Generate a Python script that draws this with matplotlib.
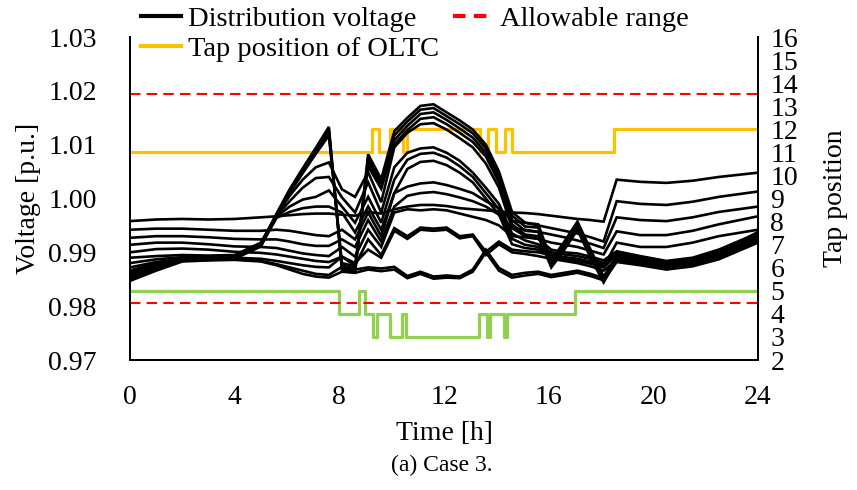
import numpy as np
import matplotlib
matplotlib.use("Agg")
import matplotlib.pyplot as plt

plt.rcParams["font.family"] = ["Liberation Serif", "DejaVu Serif"]
plt.rcParams["font.size"] = 20

# --- Time grid of the voltage curves [h] ---
hours = [0, 1, 2, 3, 4, 5, 5.6, 6.1, 6.6, 7.1, 7.6, 8.1, 8.6, 9.1, 9.6, 10.1, 10.6, 11.1, 11.6,
         12.1, 12.6, 13.1, 13.6, 14.1, 14.6, 15.1, 15.6, 16.1, 16.6, 17.1, 17.6, 18.1, 18.6,
         19.5, 20.5, 21.5, 22.5, 24]

# --- Distribution voltages [p.u.] ---
v_f = [0.9958, 0.9961, 0.9962, 0.9961, 0.9962, 0.9965, 0.9967, 0.9969, 0.9971, 0.9972, 0.9972, 0.9970, 0.9968,
       0.9975, 0.9972, 0.9980, 0.9985, 0.9988, 0.9988, 0.9986, 0.9982, 0.9980, 0.9978, 0.9976, 0.9974, 0.9973,
       0.9971, 0.9968, 0.9965, 0.9962, 0.9960, 0.9957, 1.0035, 1.0031, 1.0029, 1.0033, 1.0040, 1.0048]
v_u1 = [0.9942, 0.9944, 0.9944, 0.9942, 0.9940, 0.9940, 0.9942, 0.9940, 0.9936, 0.9932, 0.9930, 0.9942, 0.9924,
        0.9974, 0.9930, 1.0010, 1.0022, 1.0028, 1.0030, 1.0025, 1.0018, 1.0010, 0.9995, 0.9982, 0.9958, 0.9955,
        0.9950, 0.9945, 0.9940, 0.9935, 0.9928, 0.9920, 0.9995, 0.9990, 0.9988, 0.9994, 1.0003, 1.0013]
v_u2 = [0.9927, 0.9930, 0.9930, 0.9928, 0.9925, 0.9924, 0.9924, 0.9920, 0.9915, 0.9912, 0.9912, 0.9924, 0.9910,
        0.9960, 0.9920, 0.9985, 1.0005, 1.0010, 1.0012, 1.0008, 1.0002, 0.9995, 0.9985, 0.9970, 0.9945, 0.9942,
        0.9938, 0.9933, 0.9928, 0.9922, 0.9916, 0.9908, 0.9965, 0.9960, 0.9958, 0.9965, 0.9975, 0.9985]
v_u3 = [0.9914, 0.9918, 0.9918, 0.9915, 0.9911, 0.9910, 0.9908, 0.9903, 0.9898, 0.9895, 0.9893, 0.9910, 0.9892,
        0.9942, 0.9910, 0.9974, 0.9980, 0.9978, 0.9980, 0.9978, 0.9972, 0.9966, 0.9960, 0.9950, 0.9930, 0.9928,
        0.9925, 0.9918, 0.9914, 0.9910, 0.9903, 0.9896, 0.9939, 0.9932, 0.9932, 0.9940, 0.9952, 0.9967]
v_u4 = [0.9900, 0.9906, 0.9907, 0.9905, 0.9901, 0.9899, 0.9896, 0.9892, 0.9888, 0.9884, 0.9882, 0.9892, 0.9875,
        0.9924, 0.9895, 0.9945, 0.9930, 0.9946, 0.9944, 0.9946, 0.9930, 0.9933, 0.9901, 0.9920, 0.9905, 0.9902,
        0.9900, 0.9895, 0.9890, 0.9886, 0.9880, 0.9873, 0.9918, 0.9910, 0.9910, 0.9918, 0.9930, 0.9942]
v_m1 = [0.9890, 0.9893, 0.9895, 0.9894, 0.9895, 0.9918, 0.9970, 1.0005, 1.0035, 1.0058, 1.0067, 1.0017, 1.0003,
        1.0049, 0.9993, 1.0095, 1.0122, 1.0138, 1.0140, 1.0128, 1.0112, 1.0095, 1.0065, 1.0020, 0.9945, 0.9930,
        0.9925, 0.9905, 0.9900, 0.9898, 0.9892, 0.9885, 0.9902, 0.9893, 0.9884, 0.9890, 0.9905, 0.9936]
v_m2 = [0.9880, 0.9887, 0.9891, 0.9891, 0.9892, 0.9915, 0.9968, 0.9995, 1.0020, 1.0038, 1.0040, 1.0002, 0.9974,
        1.0030, 0.9974, 1.0058, 1.0085, 1.0093, 1.0095, 1.0085, 1.0070, 1.0048, 1.0020, 0.9990, 0.9935, 0.9922,
        0.9915, 0.9900, 0.9896, 0.9893, 0.9888, 0.9880, 0.9900, 0.9891, 0.9882, 0.9888, 0.9903, 0.9932]
v_m3 = [0.9866, 0.9880, 0.9889, 0.9890, 0.9891, 0.9914, 0.9966, 0.9985, 0.9998, 1.0003, 1.0015, 0.9985, 0.9955,
        1.0003, 0.9955, 1.0035, 1.0072, 1.0083, 1.0085, 1.0076, 1.0060, 1.0040, 1.0010, 0.9980, 0.9925, 0.9914,
        0.9910, 0.9895, 0.9891, 0.9888, 0.9883, 0.9876, 0.9897, 0.9888, 0.9880, 0.9886, 0.9900, 0.9928]
v_m4 = [0.9856, 0.9874, 0.9887, 0.9888, 0.9890, 0.9912, 0.9964, 0.9975, 0.9982, 0.9985, 0.9985, 0.9974, 0.9937,
        0.9985, 0.9942, 1.0010, 1.0055, 1.0068, 1.0070, 1.0062, 1.0048, 1.0030, 1.0000, 0.9970, 0.9915, 0.9908,
        0.9905, 0.9890, 0.9887, 0.9884, 0.9879, 0.9872, 0.9895, 0.9886, 0.9878, 0.9884, 0.9898, 0.9924]
v_p1 = [0.9862, 0.9878, 0.9888, 0.9889, 0.9891, 0.9915, 0.9972, 1.0017, 1.0056, 1.0094, 1.0133, 0.9866, 0.9862,
        1.0082, 1.0036, 1.0125, 1.0150, 1.0172, 1.0175, 1.0160, 1.0145, 1.0128, 1.0100, 1.0050, 0.9975, 0.9955,
        0.9952, 0.9885, 0.9920, 0.9957, 0.9905, 0.9855, 0.9893, 0.9886, 0.9878, 0.9884, 0.9898, 0.9938]
v_p2 = [0.9858, 0.9875, 0.9887, 0.9888, 0.9890, 0.9913, 0.9970, 1.0014, 1.0053, 1.0091, 1.0128, 0.9870, 0.9866,
        1.0075, 1.0030, 1.0117, 1.0143, 1.0165, 1.0168, 1.0153, 1.0138, 1.0121, 1.0093, 1.0044, 0.9968, 0.9948,
        0.9946, 0.9880, 0.9915, 0.9952, 0.9900, 0.9850, 0.9891, 0.9884, 0.9876, 0.9882, 0.9896, 0.9934]
v_p3 = [0.9851, 0.9872, 0.9886, 0.9887, 0.9889, 0.9912, 0.9969, 1.0012, 1.0050, 1.0087, 1.0123, 0.9875, 0.9870,
        1.0068, 1.0024, 1.0108, 1.0135, 1.0157, 1.0160, 1.0146, 1.0130, 1.0113, 1.0085, 1.0037, 0.9960, 0.9940,
        0.9938, 0.9876, 0.9910, 0.9947, 0.9895, 0.9847, 0.9889, 0.9882, 0.9874, 0.9880, 0.9894, 0.9930]
v_p4 = [0.9849, 0.9870, 0.9885, 0.9886, 0.9888, 0.9911, 0.9968, 1.0010, 1.0047, 1.0083, 1.0117, 0.9880, 0.9874,
        1.0060, 1.0018, 1.0100, 1.0127, 1.0148, 1.0151, 1.0138, 1.0122, 1.0105, 1.0078, 1.0030, 0.9952, 0.9933,
        0.9930, 0.9872, 0.9905, 0.9942, 0.9890, 0.9844, 0.9887, 0.9880, 0.9872, 0.9878, 0.9892, 0.9926]
v_b1 = [0.9872, 0.9882, 0.9888, 0.9889, 0.9890, 0.9888, 0.9884, 0.9880, 0.9876, 0.9873, 0.9872, 0.9892, 0.9880,
        0.9905, 0.9890, 0.9940, 0.9925, 0.9942, 0.9940, 0.9942, 0.9926, 0.9930, 0.9895, 0.9915, 0.9900, 0.9897,
        0.9893, 0.9888, 0.9884, 0.9880, 0.9874, 0.9866, 0.9886, 0.9880, 0.9872, 0.9877, 0.9890, 0.9922]
v_b2 = [0.9853, 0.9870, 0.9885, 0.9886, 0.9887, 0.9884, 0.9878, 0.9872, 0.9866, 0.9860, 0.9858, 0.9873, 0.9868,
        0.9872, 0.9870, 0.9873, 0.9856, 0.9864, 0.9855, 0.9857, 0.9855, 0.9868, 0.9905, 0.9871, 0.9858, 0.9862,
        0.9864, 0.9858, 0.9862, 0.9866, 0.9860, 0.9852, 0.9884, 0.9878, 0.9870, 0.9876, 0.9889, 0.9920]
v_b3 = [0.9847, 0.9866, 0.9883, 0.9885, 0.9886, 0.9883, 0.9876, 0.9868, 0.9860, 0.9855, 0.9853, 0.9864, 0.9862,
        0.9868, 0.9865, 0.9868, 0.9852, 0.9860, 0.9851, 0.9853, 0.9852, 0.9864, 0.9900, 0.9866, 0.9853, 0.9857,
        0.9860, 0.9854, 0.9858, 0.9862, 0.9856, 0.9848, 0.9882, 0.9876, 0.9868, 0.9874, 0.9887, 0.9918]

voltages = [v_f, v_u1, v_u2, v_u3, v_u4, v_m1, v_m2, v_m3, v_m4,
            v_p1, v_p2, v_p3, v_p4, v_b1, v_b2, v_b3]

# --- Allowable range [p.u.] ---
v_upper = 1.0194
v_lower = 0.9806

# --- Tap position of OLTC (step changes) ---
oltc_t = [0, 9.26, 9.5, 9.95, 10.45, 10.6, 13.37, 13.68, 14.0, 14.33, 14.6, 18.5, 24]
oltc_tap = [11, 12, 11, 12, 11, 12, 11, 12, 11, 12, 11, 12, 12]

# --- Second tap position (green) ---
svr_t = [0, 8.0, 8.76, 9.0, 9.28, 9.45, 9.95, 10.4, 10.55, 13.33, 13.63, 13.75, 14.3, 14.42, 17.0, 24]
svr_tap = [5, 4, 5, 4, 3, 4, 3, 4, 3, 4, 3, 4, 3, 4, 5, 5]

# --- Figure ---
fig = plt.figure(figsize=(8.57, 4.90), dpi=100)
ax = fig.add_axes([130 / 857, 1 - 360 / 490, 628 / 857, 323 / 490])
ax_tap = ax.twinx()
ax.set_zorder(ax_tap.get_zorder() + 1)
ax.patch.set_visible(False)

for v in voltages:
    ax.plot(hours, v, color="black", lw=1.9, solid_joinstyle="miter")

ax.axhline(v_upper, color="#FF0000", lw=1.5, dashes=(5, 3))
ax.axhline(v_lower, color="#FF0000", lw=1.5, dashes=(5, 3))

ax_tap.plot(oltc_t, oltc_tap, color="#FFC000", lw=2.3, drawstyle="steps-post")
ax_tap.plot(svr_t, svr_tap, color="#92D050", lw=2.3, drawstyle="steps-post")

# --- Axes ---
ax.set_xlim(0, 24)
ax.set_ylim(0.97, 1.03)
ax.set_xticks(range(0, 25, 4))
ax.set_yticks(np.arange(0.97, 1.0301, 0.01))
ax.set_yticklabels([f"{t:.2f}" for t in np.arange(0.97, 1.0301, 0.01)])
ax_tap.set_ylim(2, 16)
ax_tap.set_yticks(range(2, 17))

ax.tick_params(axis="both", length=0)
ax.tick_params(axis="y", pad=24)
ax.tick_params(axis="x", pad=18)
ax_tap.tick_params(axis="y", length=0, pad=9)

for a in (ax, ax_tap):
    a.spines["top"].set_visible(False)
    for s in ("left", "right", "bottom"):
        a.spines[s].set_linewidth(1.3)

ax.set_xlabel("Time [h]", labelpad=8)
ax.set_ylabel("Voltage [p.u.]", labelpad=5)
ax_tap.set_ylabel("Tap position", rotation=90, labelpad=18)

fig.text(442 / 857, 1 - 465 / 490, "(a) Case 3.", ha="center", va="center", fontsize=17)

# --- Legend ---
h_v, = ax.plot([], [], color="black", lw=3)
h_r, = ax.plot([], [], color="#FF0000", lw=3, dashes=(3, 2))
h_t, = ax.plot([], [], color="#FFC000", lw=3)
fig.legend([h_v, h_t, h_r], ["Distribution voltage", "Tap position of OLTC", "Allowable range"],
           loc="upper left", bbox_to_anchor=(141 / 857, 1 - 6 / 490), ncol=2, frameon=False,
           borderpad=0, borderaxespad=0, handlelength=1.4, handletextpad=0.25,
           columnspacing=0.5, labelspacing=0.15, fontsize=20.5)

fig.savefig("out.png", dpi=100)
